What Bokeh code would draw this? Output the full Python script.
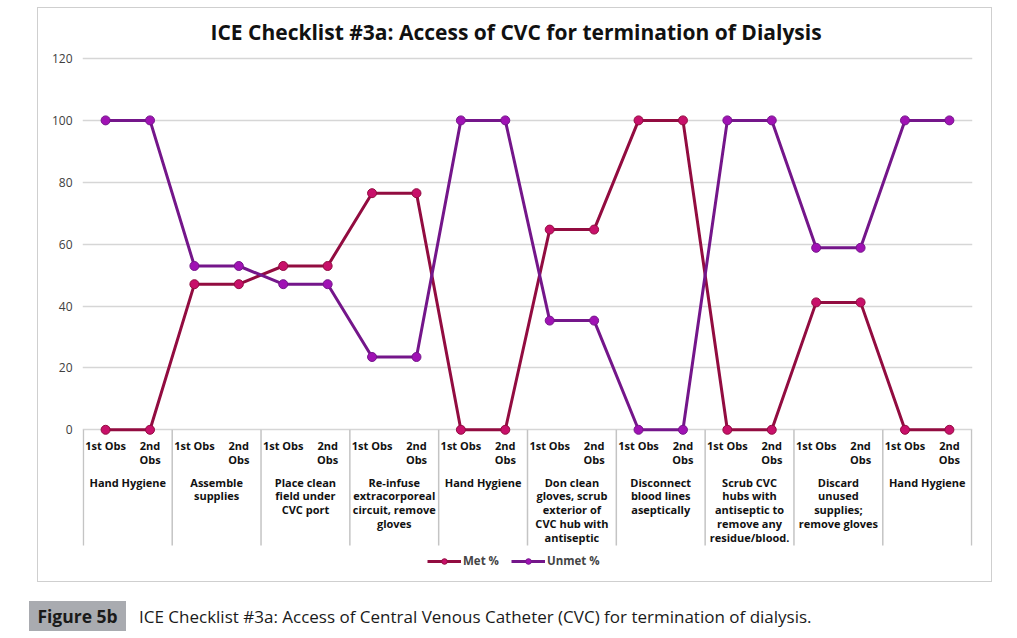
from bokeh.plotting import figure
from bokeh.models import FixedTicker, Legend, LegendItem, Div, Spacer
from bokeh.layouts import column, row
from bokeh.core.properties import value
from bokeh.embed import file_html
from bokeh.resources import INLINE

title_text = "ICE Checklist #3a: Access of CVC for termination of Dialysis"
caption_tag = "Figure 5b"
caption_text = "ICE Checklist #3a: Access of Central Venous Catheter (CVC) for termination of dialysis."

steps = [
    "Hand Hygiene",
    "Assemble\nsupplies",
    "Place clean\nfield under\nCVC port",
    "Re-infuse\nextracorporeal\ncircuit, remove\ngloves",
    "Hand Hygiene",
    "Don clean\ngloves, scrub\nexterior of\nCVC hub with\nantiseptic",
    "Disconnect\nblood lines\naseptically",
    "Scrub CVC\nhubs with\nantiseptic to\nremove any\nresidue/blood.",
    "Discard\nunused\nsupplies;\nremove gloves",
    "Hand Hygiene",
]
obs_labels = ["1st Obs", "2nd\nObs"]

met_pct = [0, 0, 47.06, 47.06, 52.94, 52.94, 76.47, 76.47, 0, 0,
           64.71, 64.71, 100, 100, 0, 0, 41.18, 41.18, 0, 0]
unmet_pct = [100, 100, 52.94, 52.94, 47.06, 47.06, 23.53, 23.53, 100, 100,
             35.29, 35.29, 0, 0, 100, 100, 58.82, 58.82, 100, 100]
y_ticks = [0, 20, 40, 60, 80, 100, 120]

MET_LINE, MET_DOT = "#920C40", "#C8106A"
UNMET_LINE, UNMET_DOT = "#74168A", "#A012B4"
FONT = "Open Sans"

n = len(met_pct)
xs = list(range(n))
n_obs = len(obs_labels)

p = figure(width=955, height=575, output_backend="svg", toolbar_location=None,
           x_range=(-0.52, n - 0.48), y_range=(-46.77, 121.94),
           x_axis_location=None, title=title_text,
           min_border_left=44, min_border_right=21, min_border_top=43, min_border_bottom=9)
p.styles = {"border": "1.5px solid #cfcfcf"}
p.title.align = "left"
p.title.offset = 128
p.title.text_font = FONT
p.title.text_font_size = "21px"
p.title.text_font_style = "bold"
p.title.text_color = "#111111"
p.title.standoff = 14
p.outline_line_color = None
p.xgrid.grid_line_color = None
p.ygrid.ticker = FixedTicker(ticks=y_ticks)
p.ygrid.grid_line_color = "#d6d6d6"
p.ygrid.grid_line_width = 1.5
p.yaxis.ticker = FixedTicker(ticks=y_ticks)
p.yaxis.axis_line_color = None
p.yaxis.major_tick_line_color = None
p.yaxis.major_tick_out = 0
p.yaxis.major_tick_in = 0
p.yaxis.minor_tick_line_color = None
p.yaxis.major_label_standoff = 10
p.yaxis.major_label_text_font = FONT
p.yaxis.major_label_text_font_size = "12px"
p.yaxis.major_label_text_color = "#404040"

# category dividers below the axis
bounds = [g * n_obs - 0.5 for g in range(len(steps) + 1)]
p.segment(x0=bounds, y0=[0] * len(bounds), x1=bounds, y1=[-37.4] * len(bounds),
          line_color="#c4c4c4", line_width=1.5)

# observation labels
p.text(x=xs, y=[-2.6] * n, text=[obs_labels[i % n_obs] for i in xs],
       text_align="center", text_baseline="top", text_font=value(FONT),
       text_font_style="bold", text_font_size="11px", text_line_height=0.92,
       text_color="#111111")
# step labels
gx = [g * n_obs + (n_obs - 1) / 2 for g in range(len(steps))]
p.text(x=gx, y=[-14.5] * len(steps), text=steps,
       text_align="center", text_baseline="top", text_font=value(FONT),
       text_font_style="bold", text_font_size="11px", text_line_height=0.92,
       text_color="#111111")

met_line = p.line(xs, met_pct, line_color=MET_LINE, line_width=3)
met_pts = p.scatter(xs, met_pct, size=9, fill_color=MET_DOT, line_color=MET_LINE, line_width=1)
unmet_line = p.line(xs, unmet_pct, line_color=UNMET_LINE, line_width=3)
unmet_pts = p.scatter(xs, unmet_pct, size=9, fill_color=UNMET_DOT, line_color=UNMET_LINE, line_width=1)

legend = Legend(items=[LegendItem(label="Met %", renderers=[met_line, met_pts]),
                       LegendItem(label="Unmet %", renderers=[unmet_line, unmet_pts])],
                orientation="horizontal", location=(345, 6), border_line_color=None,
                background_fill_alpha=0, padding=0, margin=0, spacing=12, label_standoff=2,
                glyph_width=34, glyph_height=14, label_text_font=FONT,
                label_text_font_style="bold", label_text_font_size="11.5px")
p.add_layout(legend)

caption = Div(
    text=(f'<span style="display:inline-block;width:97px;height:30px;line-height:30px;'
          f'text-align:center;background:#a9abb0;font-weight:bold;font-size:17.5px;color:#1a1a1a;">'
          f'{caption_tag}</span>'
          f'<span style="margin-left:13px;font-size:17px;color:#1a1a1a;line-height:30px;">{caption_text}</span>'),
    width=950, height=30, styles={"font-family": FONT})

layout = column(
    Spacer(height=7),
    row(Spacer(width=37), p),
    Spacer(height=14),
    row(Spacer(width=24), caption),
)

open("out.html", "w").write(file_html(layout, INLINE))
